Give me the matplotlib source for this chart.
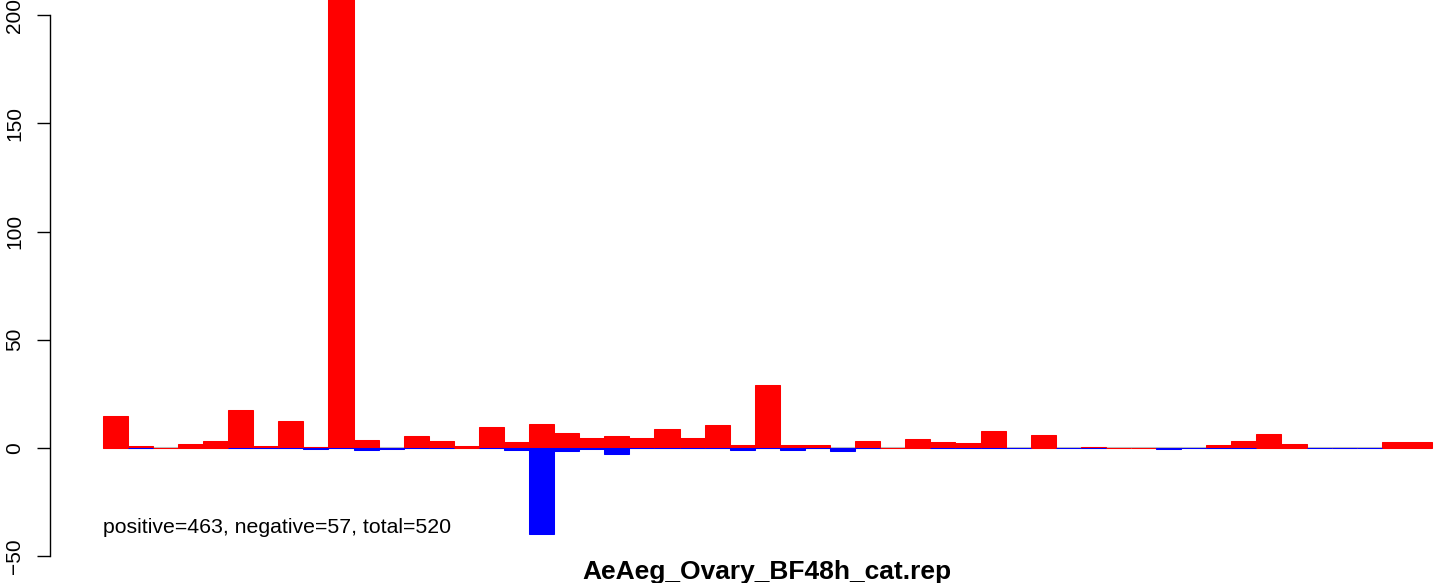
import numpy as np
import matplotlib
matplotlib.use("Agg")
import matplotlib.pyplot as plt

plt.rcParams.update({
    "font.family": ["Liberation Sans", "DejaVu Sans"],
})

# bar heights (None = nothing drawn for that series)
pos_values = [14.9, 1.1, 0, 2.0, 3.4, 17.7, 1.1, 12.6, 0.6, 230,
              3.9, 0, 5.7, 3.4, 1.1, 9.9, 2.9, 11.2, 7.1, 4.8,
              5.7, 4.8, 8.9, 4.8, 10.8, 1.5, 29.2, 1.5, 1.5, None,
              3.4, 0, 4.3, 2.9, 2.5, 8.0, None, 6.2, None, 0.6,
              0, 0, 0, None, 1.5, 3.4, 6.6, 2.0, None, 0,
              None, 2.9, 2.9]
neg_values = [None, 0, None, None, None, 0, 0, -0.2, -0.5, -0.2,
              -1.0, -0.6, 0, 0, None, 0, -0.9, -39.5, -1.4, -0.6,
              -2.6, -0.2, -0.2, 0, -0.2, -0.7, 0, -0.7, 0, -1.2,
              0, None, None, 0, -0.2, -0.2, 0, None, 0, -0.2,
              None, None, -0.6, 0, -0.2, 0, None, None, 0, -0.2,
              0, None, None]
y_ticks = [-50, 0, 50, 100, 150, 200]
summary = "positive=463, negative=57, total=520"
title = "AeAeg_Ovary_BF48h_cat.rep"

n = len(pos_values)
W, H = 1444, 583
fig = plt.figure(figsize=(W / 100, H / 100), dpi=100)

# pixel geometry of the plot region (it runs past the right/top edge)
x0_px, bar_px, left_px = 102.7, 25.08, 50.0
zero_px, unit_px = 448.0, 2.165
xlim = (-(x0_px - left_px) / bar_px, n + (x0_px - left_px) / bar_px)
ylim = (-60, 215)
right_px = x0_px + (xlim[1]) * bar_px
top_px = zero_px - ylim[1] * unit_px
bot_px = zero_px - ylim[0] * unit_px
ax = fig.add_axes([left_px / W, 1 - bot_px / H,
                   (right_px - left_px) / W, (bot_px - top_px) / H])
ax.set_xlim(xlim)
ax.set_ylim(ylim)

ax.hlines(0, 0, n, color="#BEBEBE", lw=1.5, zorder=1)

xp = [i for i, v in enumerate(pos_values) if v is not None]
ax.bar(xp, [pos_values[i] for i in xp], width=1, align="edge",
       color="#FF0000", edgecolor="#FF0000", lw=0.75, zorder=2)
xn = [i for i, v in enumerate(neg_values) if v is not None]
ax.bar(xn, [neg_values[i] for i in xn], width=1, align="edge",
       color="#0000FF", edgecolor="#0000FF", lw=0.75, zorder=3)

for s in ["top", "right", "bottom"]:
    ax.spines[s].set_visible(False)
ax.spines["left"].set_bounds(y_ticks[0], y_ticks[-1])
ax.spines["left"].set_linewidth(1.0)
ax.set_xticks([])
ax.set_yticks(y_ticks)
ax.set_yticklabels([str(t).replace("-", "\u2212") for t in y_ticks])
ax.tick_params(axis="y", length=9.5, width=1.0, pad=9, labelsize=15,
               labelrotation=90)
plt.setp(ax.get_yticklabels(), va="center")

ax.text(0, -36.5, summary, ha="left", va="center", fontsize=15.3)
fig.text((left_px + right_px) / 2 / W, 1 - 572 / H, title,
         ha="center", va="center", fontsize=19, fontweight="bold")

fig.savefig("out.png", dpi=100)
